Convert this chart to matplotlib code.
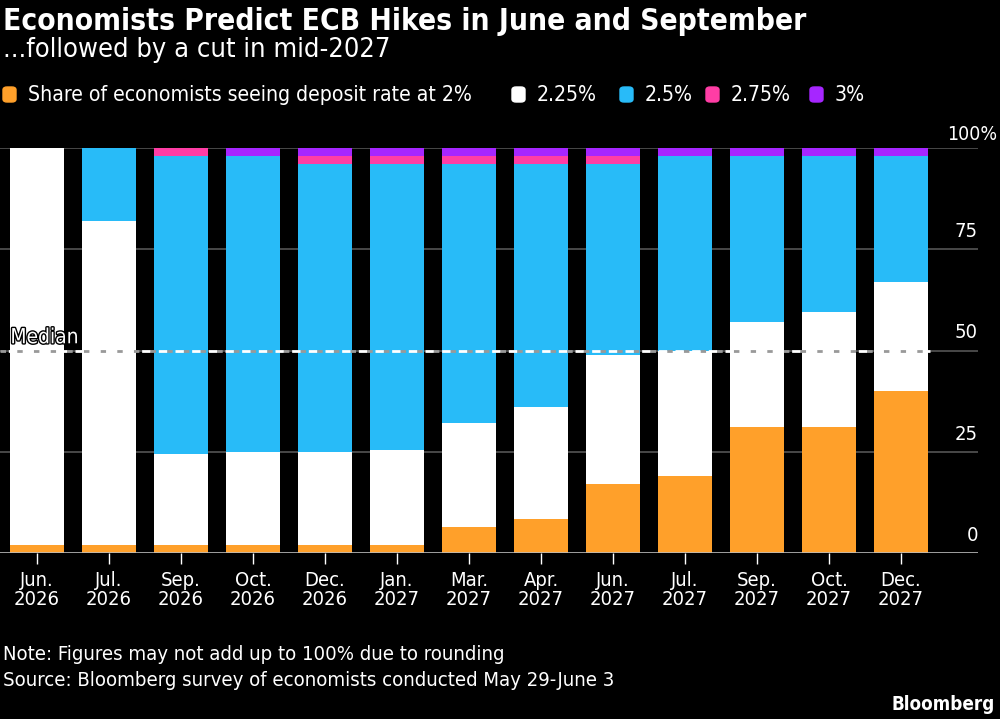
import numpy as np
import matplotlib
matplotlib.use("Agg")
import matplotlib.pyplot as plt
import matplotlib.patheffects as pe
from matplotlib import font_manager
from matplotlib.patches import FancyBboxPatch

months = ["Jun.\n2026", "Jul.\n2026", "Sep.\n2026", "Oct.\n2026", "Dec.\n2026", "Jan.\n2027",
          "Mar.\n2027", "Apr.\n2027", "Jun.\n2027", "Jul.\n2027", "Sep.\n2027", "Oct.\n2027", "Dec.\n2027"]
rate_2_00 = [2, 2, 2, 2, 2, 2, 6.5, 8.5, 17, 19, 31, 31, 40]
rate_2_25 = [98, 80, 22.5, 23, 23, 23.5, 25.5, 27.5, 32, 31, 26, 28.5, 27]
rate_2_50 = [0, 18, 73.5, 73, 71, 70.5, 64, 60, 47, 48, 41, 38.5, 31]
rate_2_75 = [0, 0, 2, 0, 2, 2, 2, 2, 2, 0, 0, 0, 0]
rate_3_00 = [0, 0, 0, 2, 2, 2, 2, 2, 2, 2, 2, 2, 2]
series_labels = ["Share of economists seeing deposit rate at 2%", "2.25%", "2.5%", "2.75%", "3%"]
colors = ["#FFA02A", "#FFFFFF", "#28BBF8", "#FF3DA5", "#A626FF"]
median = 50

cond = [f for f in font_manager.fontManager.ttflist
        if f.name == "DejaVu Sans" and f.stretch == "condensed"]
plt.rcParams["font.family"] = "DejaVu Sans"
if cond:
    plt.rcParams["font.stretch"] = "condensed"
    scale = 1.0
else:
    scale = 0.9

W, H = 1000, 719
fig = plt.figure(figsize=(W / 100, H / 100), dpi=100, facecolor="black")
ax = fig.add_axes([0, 1 - 553 / H, 978 / W, (553 - 148) / H])
ax.set_facecolor("black")

x = np.arange(len(months))
bottom = np.zeros(len(months))
for vals, c in zip([rate_2_00, rate_2_25, rate_2_50, rate_2_75, rate_3_00], colors):
    ax.bar(x, vals, bottom=bottom, width=0.76, color=c, zorder=2)
    bottom += np.array(vals)

ax.set_xlim(-0.514, (978 - 37) / 72)
ax.set_ylim(0, 100)
for v in [25, 50, 75, 100]:
    ax.axhline(v, color="#555555", lw=1.2, zorder=1)
ax.axhline(0, color="#bbbbbb", lw=1.2, zorder=3)

# median line
ax.plot([-0.514, 12.4], [median, median], color="#999999", lw=2, ls=(0, (2, 4)), zorder=4)
ax.plot([-0.514, 12.4], [median, median], color="white", lw=2, ls=(3, (3, 3)), zorder=4)
ax.text(-0.37, median + 0.8, "Median", color="white", fontsize=15 * scale, va="bottom", ha="left", zorder=5,
        path_effects=[pe.withStroke(linewidth=2, foreground="black")])

for spine in ax.spines.values():
    spine.set_visible(False)
ax.set_yticks([])
ax.set_xticks(x)
ax.set_xticklabels(months, color="white", fontsize=14.5 * scale, linespacing=1.0)
ax.tick_params(axis="x", colors="white", length=8, width=1, pad=5)

for v in [0, 25, 50, 75]:
    ax.text(1.0, v + 2, str(v), transform=ax.get_yaxis_transform(), color="white",
            fontsize=14.5 * scale, ha="right", va="bottom")
fig.text(997 / W, 1 - 140 / H, "100%", color="white", fontsize=14 * scale, ha="right", va="baseline")

fig.text(3 / W, 1 - 30 / H, "Economists Predict ECB Hikes in June and September", color="white",
         fontsize=21.4 * scale, fontweight="bold", ha="left", va="baseline")
fig.text(3 / W, 1 - 57 / H, "...followed by a cut in mid-2027", color="white",
         fontsize=19.5 * scale, ha="left", va="baseline")

# legend
lx = [3, 512, 620, 706, 810]
for px, lab, c in zip(lx, series_labels, colors):
    fig.patches.append(FancyBboxPatch((px / W, 1 - 102 / H), 13 / W, 15 / H,
                                      boxstyle="round,pad=0,rounding_size=0.004",
                                      transform=fig.transFigure, color=c, figure=fig))
    fig.text((px + 25) / W, 1 - 101 / H, lab, color="white", fontsize=15.2 * scale,
             ha="left", va="baseline")

fig.text(3 / W, 1 - 660 / H, "Note: Figures may not add up to 100% due to rounding", color="white",
         fontsize=14.6 * scale, ha="left", va="baseline")
fig.text(3 / W, 1 - 686 / H, "Source: Bloomberg survey of economists conducted May 29-June 3", color="white",
         fontsize=14.6 * scale, ha="left", va="baseline")
fig.text(995 / W, 1 - 710 / H, "Bloomberg", color="white", fontsize=13.5 * scale, fontweight="bold",
         ha="right", va="baseline")

fig.savefig("out.png", dpi=100, facecolor="black")
